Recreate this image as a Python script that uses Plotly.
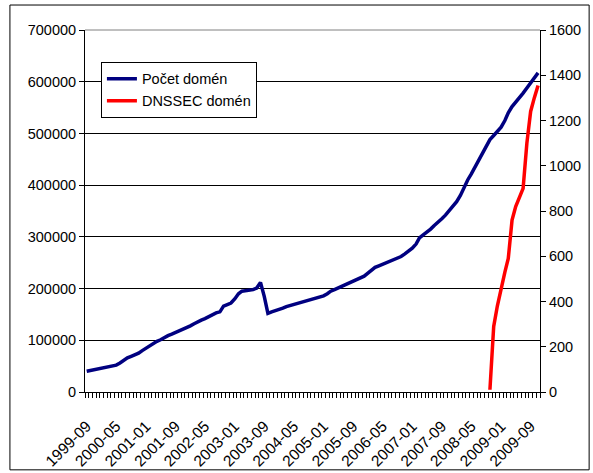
import pandas as pd
import plotly.graph_objects as go

# monthly categories 1999-09 .. 2009-11
months = pd.date_range(start="1999-09-01", periods=123, freq="MS")
month_labels = months.strftime("%Y-%m").tolist()
mid_month = (months + pd.Timedelta(days=14)).strftime("%Y-%m-%d").tolist()

pocet_domen = [
    40000, 41500, 43000, 44500, 46500, 48000, 50000, 51000, 52000, 56000,
    61000, 66000, 69000, 72000, 75000, 80000, 85000, 89000, 94000, 98000,
    101000, 106000, 109000, 112000, 115000, 119000, 121000, 124000, 128000, 132000,
    136000, 139000, 142000, 146000, 150000, 153000, 155000, 166000, 169000, 172000,
    180000, 190000, 195000, 196000, 197000, 198000, 201000, 212000, 185000, 152000,
    155000, 157000, 159000, 162000, 165000, 167000, 169000, 171000, 173000, 175000,
    177000, 179000, 181000, 183000, 186000, 190000, 195000, 198000, 201000, 204000,
    207000, 210000, 214000, 217000, 220000, 224000, 230000, 236000, 241000, 244000,
    247000, 250000, 253000, 256000, 258000, 262000, 267000, 272000, 278000, 286000,
    298000, 304000, 309000, 315000, 322000, 328000, 335000, 342000, 351000, 361000,
    368000, 380000, 395000, 410000, 422000, 435000, 448000, 462000, 475000, 488000,
    496000, 503000, 512000, 525000, 540000, 552000, 560000, 569000, 578000, 588000,
    597000, 607000, 617000,
]

dnssec_domen = [None] * 109 + [
    10, 290, 380, 460, 530, 590, 760, 820, 860, 900, 1100, 1240, 1300, 1355,
]

label_every = 8
tick_vals = mid_month[::label_every]
tick_text = month_labels[::label_every]

font_family = "Arial, Liberation Sans, sans-serif"

fig = go.Figure()
fig.add_trace(go.Scatter(
    x=mid_month, y=pocet_domen, mode="lines", name="Počet domén",
    line=dict(color="#000080", width=3.5),
))
fig.add_trace(go.Scatter(
    x=mid_month, y=dnssec_domen, mode="lines", name="DNSSEC domén",
    line=dict(color="#FF0000", width=3.5), yaxis="y2",
))

fig.update_layout(
    width=593, height=473,
    margin=dict(l=85, r=53, t=30, b=81),
    paper_bgcolor="white", plot_bgcolor="white",
    font=dict(family=font_family, size=14.5, color="#000000"),
    showlegend=True,
    legend=dict(
        x=0.035, y=0.912, xanchor="left", yanchor="top",
        bgcolor="white", bordercolor="#000000", borderwidth=1,
        font=dict(size=14.5),
    ),
    xaxis=dict(
        type="date", automargin=False,
        range=["1999-09-01", "2009-12-01"],
        tickvals=tick_vals, ticktext=tick_text, tickangle=-45,
        tickfont=dict(size=15.5), ticklabelstandoff=18,
        ticks="", showgrid=False, zeroline=False,
        showline=True, linecolor="#000000", linewidth=1,
        minor=dict(ticks="outside", ticklen=5, tickcolor="#000000",
                   tick0="1999-09-01", dtick="M1", showgrid=False),
    ),
    yaxis=dict(
        range=[0, 700000], dtick=100000, tickformat="d", automargin=False,
        showgrid=True, gridcolor="#000000", gridwidth=1, zeroline=False,
        showline=True, linecolor="#000000", linewidth=1,
        ticks="outside", ticklen=5, tickcolor="#000000",
    ),
    yaxis2=dict(
        range=[0, 1600], dtick=200, overlaying="y", side="right", automargin=False,
        showgrid=False, zeroline=False,
        showline=True, linecolor="#000000", linewidth=1,
        ticks="outside", ticklen=5, tickcolor="#000000",
    ),
    shapes=[
        dict(type="line", xref="paper", yref="paper", x0=0, x1=1, y0=1, y1=1,
             line=dict(color="#808080", width=1)),
        dict(type="rect", xref="paper", yref="paper",
             x0=-0.165, x1=1.108, y0=-0.215, y1=1.069,
             line=dict(color="#000000", width=1)),
    ],
)

fig.write_html(
    "out.html",
    config={"displayModeBar": False},
    post_script="document.body.style.margin='0px';",
)
